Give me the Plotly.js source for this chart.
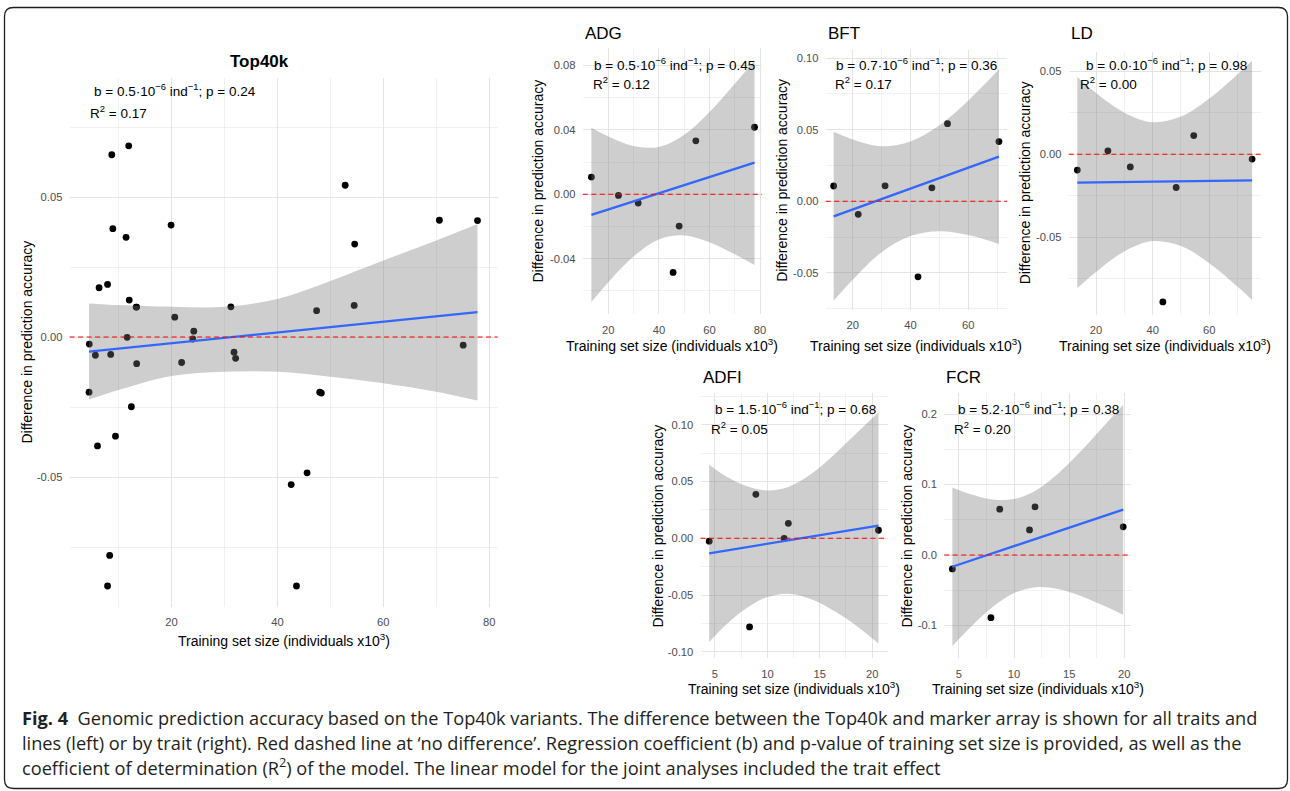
<!DOCTYPE html>
<html><head><meta charset="utf-8">
<script src="https://cdn.plot.ly/plotly-3.0.1.min.js"></script>
<style>html,body{margin:0;padding:0;background:#fff}#chart{width:1290px;height:791px}</style>
</head><body><div id="chart"></div>
<script>
// ---------------- DATA ----------------
const panelNames = ['Top40k', 'ADG', 'BFT', 'LD', 'ADFI', 'FCR'];
const bTexts = [
  'b = 0.5·10<sup>−6</sup> ind<sup>−1</sup>; p = 0.24',
  'b = 0.5·10<sup>−6</sup> ind<sup>−1</sup>; p = 0.45',
  'b = 0.7·10<sup>−6</sup> ind<sup>−1</sup>; p = 0.36',
  'b = 0.0·10<sup>−6</sup> ind<sup>−1</sup>; p = 0.98',
  'b = 1.5·10<sup>−6</sup> ind<sup>−1</sup>; p = 0.68',
  'b = 5.2·10<sup>−6</sup> ind<sup>−1</sup>; p = 0.38'
];
const r2Texts = ['R<sup>2</sup> = 0.17', 'R<sup>2</sup> = 0.12', 'R<sup>2</sup> = 0.17', 'R<sup>2</sup> = 0.00', 'R<sup>2</sup> = 0.05', 'R<sup>2</sup> = 0.20'];
const xTitle = 'Training set size (individuals x10<sup>3</sup>)';
const yTitle = 'Difference in prediction accuracy';

// Top40k (all traits and lines)
const top40kX = [8.7, 11.9, 52.8, 8.9, 11.4, 19.9, 70.6, 77.8, 54.6, 6.3, 7.9, 12.0, 13.3, 13.4, 31.2, 54.5, 47.4, 20.6, 24.2, 24.0, 11.6, 4.45, 5.6, 8.5, 13.4, 21.9, 31.8, 32.1, 75.1, 4.4, 12.4, 9.4, 6.0, 48.0, 48.3, 45.6, 42.6, 8.3, 7.9, 43.6];
const top40kY = [0.0651, 0.0683, 0.0542, 0.0387, 0.0356, 0.0400, 0.0417, 0.0416, 0.0332, 0.0176, 0.0188, 0.0132, 0.0107, 0.0107, 0.0108, 0.0113, 0.0094, 0.0071, 0.0021, -0.0007, -0.0001, -0.0025, -0.0065, -0.0062, -0.0095, -0.0091, -0.0054, -0.0076, -0.0029, -0.0197, -0.0249, -0.0354, -0.0389, -0.0197, -0.0200, -0.0485, -0.0527, -0.0780, -0.0889, -0.0889];
const top40kFitX = [4.4, 77.8];
const top40kFitY = [-0.0052, 0.0089];
const top40kBandX = [4.4, 10, 20, 30, 40, 50, 60, 70, 77.8];
const top40kBandUpper = [0.0120, 0.0114, 0.0108, 0.0108, 0.0136, 0.0200, 0.0273, 0.0345, 0.0404];
const top40kBandLower = [-0.0223, -0.0189, -0.0139, -0.0124, -0.0124, -0.0142, -0.0165, -0.0195, -0.0227];

// ADG
const adgX = [13.3, 24.0, 31.8, 48.0, 45.6, 54.6, 77.8];
const adgY = [0.0107, -0.0007, -0.0054, -0.0197, -0.0485, 0.0332, 0.0416];
const adgFitX = [13.3, 77.8];
const adgFitY = [-0.0128, 0.0196];
const adgBandX = [13.3, 20, 30, 40, 50, 60, 70, 77.8];
const adgBandUpper = [0.0413, 0.0359, 0.0300, 0.0294, 0.0369, 0.0511, 0.0686, 0.0831];
const adgBandLower = [-0.0669, -0.0545, -0.0386, -0.0280, -0.0255, -0.0297, -0.0372, -0.0439];

// BFT
const bftX = [13.4, 21.9, 31.2, 42.6, 47.4, 52.8, 70.6];
const bftY = [0.0107, -0.0091, 0.0108, -0.0527, 0.0094, 0.0542, 0.0417];
const bftFitX = [13.4, 70.6];
const bftFitY = [-0.0105, 0.0312];
const bftBandX = [13.4, 20, 30, 40, 50, 60, 70.6];
const bftBandUpper = [0.0485, 0.0432, 0.0385, 0.0418, 0.0531, 0.0704, 0.0922];
const bftBandLower = [-0.0695, -0.0548, -0.0355, -0.0242, -0.0209, -0.0236, -0.0298];

// LD
const ldX = [13.4, 24.2, 32.1, 48.3, 54.5, 75.1, 43.6];
const ldY = [-0.0095, 0.0021, -0.0076, -0.0200, 0.0113, -0.0029, -0.0889];
const ldFitX = [13.4, 75.1];
const ldFitY = [-0.0171, -0.0157];
const ldBandX = [13.4, 20, 30, 40, 50, 60, 70, 75.1];
const ldBandUpper = [0.0465, 0.0369, 0.0251, 0.0193, 0.0227, 0.0336, 0.0482, 0.0563];
const ldBandLower = [-0.0807, -0.0709, -0.0585, -0.0523, -0.0553, -0.0656, -0.0798, -0.0877];

// ADFI
const adfiX = [4.45, 8.9, 11.6, 12.0, 20.6, 8.3];
const adfiY = [-0.0025, 0.0387, -0.0001, 0.0132, 0.0071, -0.0780];
const adfiFitX = [4.45, 20.6];
const adfiFitY = [-0.0132, 0.0111];
const adfiBandX = [4.45, 6, 8, 10, 12, 14, 16, 18, 20.6];
const adfiBandUpper = [0.0648, 0.0549, 0.0460, 0.0421, 0.0452, 0.0554, 0.0704, 0.0881, 0.1110];
const adfiBandLower = [-0.0912, -0.0765, -0.0616, -0.0517, -0.0488, -0.0530, -0.0620, -0.0737, -0.0925];

// FCR
const fcrX = [4.4, 8.7, 11.4, 11.9, 19.9, 7.9];
const fcrY = [-0.0197, 0.0651, 0.0356, 0.0683, 0.0400, -0.0889];
const fcrFitX = [4.4, 19.9];
const fcrFitY = [-0.0166, 0.0643];
const fcrBandX = [4.4, 6, 8, 10, 12, 14, 16, 18, 19.9];
const fcrBandUpper = [0.0957, 0.0864, 0.0788, 0.0794, 0.0920, 0.1157, 0.1464, 0.1806, 0.2133];
const fcrBandLower = [-0.1289, -0.1030, -0.0744, -0.0540, -0.0456, -0.0483, -0.0578, -0.0710, -0.0847];

// Axis breaks and tick labels
const top40kXTicks = [20, 40, 60, 80], top40kXLabels = ['20', '40', '60', '80'], top40kXMinor = [10, 30, 50, 70];
const top40kYTicks = [-0.05, 0, 0.05], top40kYLabels = ['-0.05', '0.00', '0.05'], top40kYMinor = [-0.075, -0.025, 0.025, 0.075];
const adgXTicks = [20, 40, 60, 80], adgXLabels = ['20', '40', '60', '80'], adgXMinor = [10, 30, 50, 70];
const adgYTicks = [-0.04, 0, 0.04, 0.08], adgYLabels = ['-0.04', '0.00', '0.04', '0.08'], adgYMinor = [-0.06, -0.02, 0.02, 0.06];
const bftXTicks = [20, 40, 60], bftXLabels = ['20', '40', '60'], bftXMinor = [30, 50, 70];
const bftYTicks = [-0.05, 0, 0.05, 0.10], bftYLabels = ['-0.05', '0.00', '0.05', '0.10'], bftYMinor = [-0.075, -0.025, 0.025, 0.075];
const ldXTicks = [20, 40, 60], ldXLabels = ['20', '40', '60'], ldXMinor = [30, 50, 70];
const ldYTicks = [-0.05, 0, 0.05], ldYLabels = ['-0.05', '0.00', '0.05'], ldYMinor = [-0.075, -0.025, 0.025];
const adfiXTicks = [5, 10, 15, 20], adfiXLabels = ['5', '10', '15', '20'], adfiXMinor = [7.5, 12.5, 17.5];
const adfiYTicks = [-0.10, -0.05, 0, 0.05, 0.10], adfiYLabels = ['-0.10', '-0.05', '0.00', '0.05', '0.10'], adfiYMinor = [-0.075, -0.025, 0.025, 0.075, 0.125];
const fcrXTicks = [5, 10, 15, 20], fcrXLabels = ['5', '10', '15', '20'], fcrXMinor = [7.5, 12.5, 17.5];
const fcrYTicks = [-0.1, 0, 0.1, 0.2], fcrYLabels = ['-0.1', '0.0', '0.1', '0.2'], fcrYMinor = [-0.05, 0.05, 0.15];

const captionLines = [
  '<b>Fig. 4</b>  Genomic prediction accuracy based on the Top40k variants. The difference between the Top40k and marker array is shown for all traits and',
  'lines (left) or by trait (right). Red dashed line at ‘no difference’. Regression coefficient (b) and p-value of training set size is provided, as well as the',
  'coefficient of determination (R<sup>2</sup>) of the model. The linear model for the joint analyses included the trait effect'
];

// ---------------- LAYOUT (pixel geometry) ----------------
const W = 1290, H = 791;
const PX = p => p / W, PY = p => 1 - p / H;

const series = [
  {x: top40kX, y: top40kY, fx: top40kFitX, fy: top40kFitY, bx: top40kBandX, bu: top40kBandUpper, bl: top40kBandLower,
   xt: top40kXTicks, xl: top40kXLabels, xm: top40kXMinor, yt: top40kYTicks, yl: top40kYLabels, ym: top40kYMinor},
  {x: adgX, y: adgY, fx: adgFitX, fy: adgFitY, bx: adgBandX, bu: adgBandUpper, bl: adgBandLower,
   xt: adgXTicks, xl: adgXLabels, xm: adgXMinor, yt: adgYTicks, yl: adgYLabels, ym: adgYMinor},
  {x: bftX, y: bftY, fx: bftFitX, fy: bftFitY, bx: bftBandX, bu: bftBandUpper, bl: bftBandLower,
   xt: bftXTicks, xl: bftXLabels, xm: bftXMinor, yt: bftYTicks, yl: bftYLabels, ym: bftYMinor},
  {x: ldX, y: ldY, fx: ldFitX, fy: ldFitY, bx: ldBandX, bu: ldBandUpper, bl: ldBandLower,
   xt: ldXTicks, xl: ldXLabels, xm: ldXMinor, yt: ldYTicks, yl: ldYLabels, ym: ldYMinor},
  {x: adfiX, y: adfiY, fx: adfiFitX, fy: adfiFitY, bx: adfiBandX, bu: adfiBandUpper, bl: adfiBandLower,
   xt: adfiXTicks, xl: adfiXLabels, xm: adfiXMinor, yt: adfiYTicks, yl: adfiYLabels, ym: adfiYMinor},
  {x: fcrX, y: fcrY, fx: fcrFitX, fy: fcrFitY, bx: fcrBandX, bu: fcrBandUpper, bl: fcrBandLower,
   xt: fcrXTicks, xl: fcrXLabels, xm: fcrXMinor, yt: fcrYTicks, yl: fcrYLabels, ym: fcrYMinor}
];

// geometry: panel box px [left,right,top,bottom], axis ranges, text positions
const geom = [
  {box: [69.6, 497.6, 78.3, 606.7], xr: [0.73, 81.6], yr: [-0.0963, 0.0924],
   title: {x: 259, y: 61, anchor: 'center', bold: true}, b: [91.7, 90], r2: [88, 111.7], yt: 27, xt: 640},
  {box: [582.8, 762.1, 48.3, 314.2], xr: [9.9, 80.8], yr: [-0.0744, 0.0906],
   title: {x: 583, y: 33.5, anchor: 'left'}, b: [591.7, 64], r2: [591, 83.3], yt: 538.3, xt: 345},
  {box: [825.7, 1007.2, 50.1, 310], xr: [10.65, 73.46], yr: [-0.0759, 0.1056],
   title: {x: 825.5, y: 33.5, anchor: 'left'}, b: [834.3, 64], r2: [833.3, 83.3], yt: 781.7, xt: 345},
  {box: [1068.8, 1260.6, 51.7, 315], xr: [10.4, 78.1], yr: [-0.0968, 0.0618],
   title: {x: 1069, y: 33.5, anchor: 'left'}, b: [1084, 64], r2: [1077.7, 83.3], yt: 1025, xt: 345},
  {box: [700.5, 887.5, 393.3, 658.3], xr: [3.62, 21.46], yr: [-0.1056, 0.1276],
   title: {x: 701, y: 377, anchor: 'left'}, b: [712.7, 407.7], r2: [709, 427.7], yt: 657.7, xt: 688.3},
  {box: [944.2, 1130.8, 393.3, 658.4], xr: [3.66, 20.59], yr: [-0.1466, 0.2294],
   title: {x: 944.3, y: 377, anchor: 'left'}, b: [956, 407.7], r2: [952.3, 427.7], yt: 906.7, xt: 688.3}
];

const FONT = 'Liberation Sans, Arial, Helvetica, sans-serif';
const traces = [];
const layout = {
  width: W, height: H, margin: {l: 0, r: 0, t: 0, b: 0},
  paper_bgcolor: '#ffffff', plot_bgcolor: 'rgba(0,0,0,0)',
  showlegend: false, font: {family: FONT, color: '#000'},
  annotations: [], shapes: []
};

series.forEach((s, i) => {
  const g = geom[i];
  const xa = i === 0 ? 'x' : 'x' + (i + 1);
  const ya = i === 0 ? 'y' : 'y' + (i + 1);
  const xkey = i === 0 ? 'xaxis' : 'xaxis' + (i + 1);
  const ykey = i === 0 ? 'yaxis' : 'yaxis' + (i + 1);
  const common = {
    showline: false, zeroline: false, showgrid: true, gridcolor: '#e4e4e4', gridwidth: 1,
    ticks: 'outside', tickcolor: 'rgba(0,0,0,0)', tickmode: 'array',
    tickfont: {family: FONT, size: 11.2, color: '#4d4d4d'}, fixedrange: true
  };
  layout[xkey] = Object.assign({}, common, {
    domain: [PX(g.box[0]), PX(g.box[1])], range: g.xr, anchor: ya, ticklen: 5,
    tickvals: s.xt, ticktext: s.xl,
    minor: {tickmode: 'array', tickvals: s.xm, showgrid: true, gridcolor: '#eeeeee', gridwidth: 0.8, ticks: ''}
  });
  layout[ykey] = Object.assign({}, common, {
    domain: [PY(g.box[3]), PY(g.box[2])], range: g.yr, anchor: xa, ticklen: 4,
    tickvals: s.yt, ticktext: s.yl,
    minor: {tickmode: 'array', tickvals: s.ym, showgrid: true, gridcolor: '#eeeeee', gridwidth: 0.8, ticks: ''}
  });
  // points
  traces.push({type: 'scatter', mode: 'markers', x: s.x, y: s.y, xaxis: xa, yaxis: ya,
    marker: {size: 6.8, color: '#000000'}, hoverinfo: 'skip'});
  // confidence band
  traces.push({type: 'scatter', mode: 'lines', x: s.bx, y: s.bl, xaxis: xa, yaxis: ya,
    line: {width: 0, shape: 'spline', color: 'rgba(0,0,0,0)'}, hoverinfo: 'skip'});
  traces.push({type: 'scatter', mode: 'lines', x: s.bx, y: s.bu, xaxis: xa, yaxis: ya, fill: 'tonexty',
    fillcolor: 'rgba(120,120,120,0.36)', line: {width: 0, shape: 'spline', color: 'rgba(0,0,0,0)'}, hoverinfo: 'skip'});
  // fitted line
  traces.push({type: 'scatter', mode: 'lines', x: s.fx, y: s.fy, xaxis: xa, yaxis: ya,
    line: {width: 2.3, color: '#3366FF'}, hoverinfo: 'skip'});
  // red dashed zero line
  layout.shapes.push({type: 'line', layer: 'above', xref: xa + ' domain', x0: 0, x1: 1, yref: ya, y0: 0, y1: 0,
    line: {color: '#FF0000', width: 1.1, dash: '5px,3.5px'}});
  // titles & text
  layout.annotations.push({xref: 'paper', yref: 'paper', x: PX(g.title.x), y: PY(g.title.y),
    xanchor: g.title.anchor, yanchor: 'middle', showarrow: false,
    text: g.title.bold ? '<b>' + panelNames[i] + '</b>' : panelNames[i],
    font: {family: FONT, size: 17, color: '#000'}});
  layout.annotations.push({xref: 'paper', yref: 'paper', x: PX(g.b[0]), y: PY(g.b[1]), xanchor: 'left', yanchor: 'middle',
    showarrow: false, text: bTexts[i], font: {family: FONT, size: 13.5, color: '#000'}});
  layout.annotations.push({xref: 'paper', yref: 'paper', x: PX(g.r2[0]), y: PY(g.r2[1]), xanchor: 'left', yanchor: 'middle',
    showarrow: false, text: r2Texts[i], font: {family: FONT, size: 13.5, color: '#000'}});
  layout.annotations.push({xref: 'paper', yref: 'paper', x: PX(g.yt), y: PY((g.box[2] + g.box[3]) / 2),
    xanchor: 'center', yanchor: 'middle', textangle: -90, showarrow: false, text: yTitle,
    font: {family: FONT, size: 14, color: '#000'}});
  layout.annotations.push({xref: 'paper', yref: 'paper', x: PX((g.box[0] + g.box[1]) / 2), y: PY(g.xt),
    xanchor: 'center', yanchor: 'middle', showarrow: false, text: xTitle,
    font: {family: FONT, size: 14, color: '#000'}});
});

// caption
const capY = [718.3, 742.7, 766];
captionLines.forEach((t, k) => {
  layout.annotations.push({xref: 'paper', yref: 'paper', x: PX(20), y: PY(capY[k]), xanchor: 'left', yanchor: 'middle',
    showarrow: false, text: t, font: {family: 'Open Sans, Lato, sans-serif', size: 18.2, color: '#231f20'}});
});

// outer rounded frame
(function () {
  const x0 = 4.5, x1 = 1287.5, y0 = 7.5, y1 = 788.5, r = 9;
  const P = (x, y) => PX(x) + ',' + PY(y);
  const path = 'M' + P(x0 + r, y0) + ' L' + P(x1 - r, y0) + ' Q' + P(x1, y0) + ' ' + P(x1, y0 + r) +
    ' L' + P(x1, y1 - r) + ' Q' + P(x1, y1) + ' ' + P(x1 - r, y1) +
    ' L' + P(x0 + r, y1) + ' Q' + P(x0, y1) + ' ' + P(x0, y1 - r) +
    ' L' + P(x0, y0 + r) + ' Q' + P(x0, y0) + ' ' + P(x0 + r, y0) + ' Z';
  layout.shapes.push({type: 'path', xref: 'paper', yref: 'paper', path: path, layer: 'above',
    line: {color: '#231f20', width: 1.3}, fillcolor: 'rgba(0,0,0,0)'});
})();

Plotly.newPlot('chart', traces, layout, {staticPlot: true, displayModeBar: false});
</script></body></html>
